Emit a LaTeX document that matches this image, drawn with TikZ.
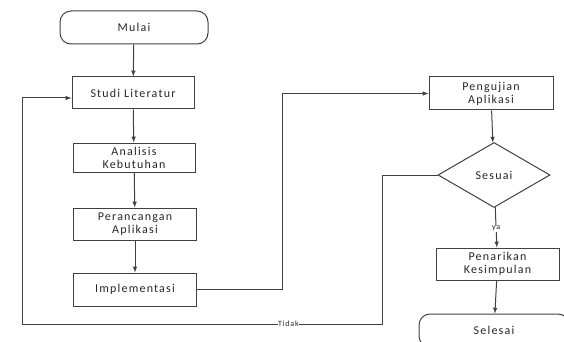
\documentclass[tikz,border=0pt]{standalone}
\usepackage{fontspec}
\setmainfont[LetterSpace=10]{Carlito}
\usetikzlibrary{arrows,shapes.geometric}

\begin{document}
\begin{tikzpicture}[x=1pt,y=-1pt,
  line width=1pt, draw=black!75, text=black!85,
  font=\fontsize{12}{13}\selectfont,
  box/.style={draw, rectangle, minimum width=122pt, minimum height=32pt, align=center, inner sep=1pt},
  term/.style={draw, rectangle, rounded corners=11pt, minimum width=148pt, minimum height=33pt},
  cond/.style={draw, diamond, aspect=1.75, minimum width=112pt, minimum height=65pt, inner sep=0pt},
  arr/.style={-latex, draw=black!75},
  lbl/.style={font=\fontsize{8}{9}\selectfont, fill=white, inner sep=0.5pt}]
\useasboundingbox (0,0) rectangle (564,342);

\node[term] (mulai) at (134,27.5) {Mulai};
\node[box] (studi) at (133,93) {Studi Literatur};
\node[box, minimum height=29pt] (analisis) at (134,157.5) {Analisis\\Kebutuhan};
\node[box, minimum width=123pt] (rancang) at (135,224) {Perancangan\\Aplikasi};
\node[box, minimum width=123pt, minimum height=33pt] (impl) at (135,289.5) {Implementasi};

\node[box, minimum width=124pt, minimum height=33pt] (uji) at (491,93.5) {Pengujian\\Aplikasi};
\node[cond] (sesuai) at (494,175) {Sesuai};
\node[box, minimum width=123pt] (tarik) at (497.5,264) {Penarikan\\Kesimpulan};
\node[term, minimum width=150pt] (selesai) at (494,330.5) {Selesai};

\coordinate (belok) at (282,0);
\coordinate (t1) at (382,324);
\coordinate (t2) at (22,324);

\draw[arr] (mulai) -- (studi);
\draw[arr] (studi) -- (analisis);
\draw[arr] (analisis) -- (rancang);
\draw[arr] (rancang) -- (impl);

\draw[arr] (impl.east) -| (belok |- uji) -- (uji.west);
\draw[arr] (uji) -- (sesuai);
\draw[arr] (sesuai) -- node[lbl, pos=0.53] (ya) {ya} (tarik);
\draw[arr] (tarik) -- (selesai);

% jalur kembali
\draw[arr] (sesuai.west) -| (t1) -- node[lbl, pos=0.26] (tidak) {Tidak} (t2) |- ([yshift=-5pt]studi.west);
\end{tikzpicture}
\end{document}
